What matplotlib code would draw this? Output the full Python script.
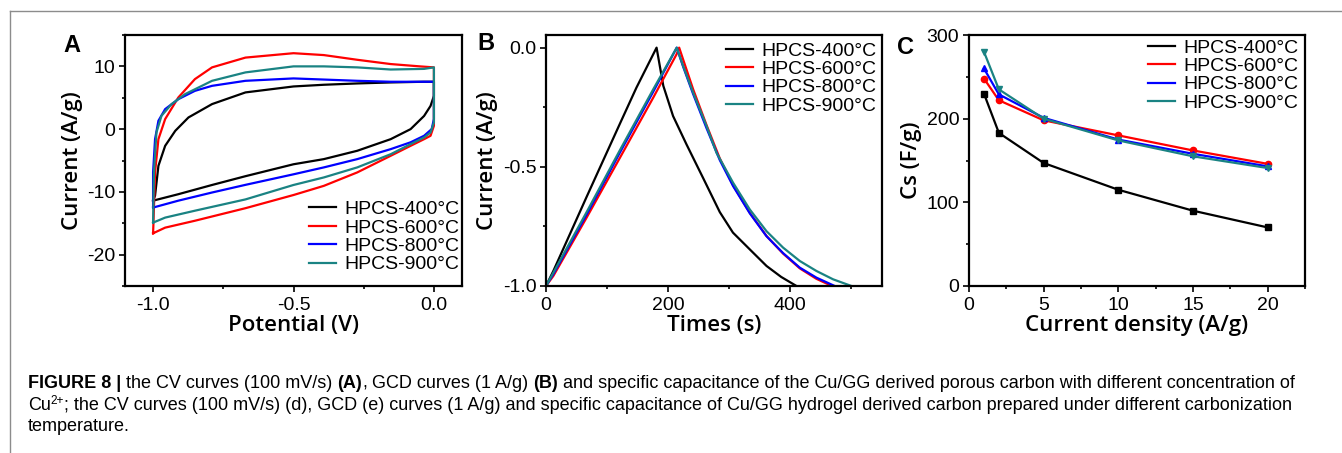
import matplotlib
matplotlib.use("Agg")
import matplotlib.pyplot as plt
from matplotlib.lines import Line2D
from matplotlib.ticker import MultipleLocator

plt.rcParams["font.family"] = ["Liberation Sans", "DejaVu Sans"]
plt.rcParams["axes.unicode_minus"] = False

# ---- data ----
labels = ["HPCS-400°C", "HPCS-600°C", "HPCS-800°C", "HPCS-900°C"]
colors = ["#000000", "#ff0000", "#0000ff", "#1a8383"]

# (A) CV loops: upper branch -1 -> 0 V, then lower branch 0 -> -1 V
cv400_v = [-1.0, -0.993, -0.981, -0.957, -0.921, -0.874, -0.79, -0.671, -0.5, -0.392, -0.273, -0.154, -0.035, 0.0,
           0.0, -0.012, -0.035, -0.083, -0.154, -0.273, -0.392, -0.5, -0.671, -0.79, -0.91, -1.0]
cv400_i = [-11.4, -10.6, -5.85, -2.66, -0.27, 1.86, 3.99, 5.85, 6.8, 7.07, 7.28, 7.44, 7.55, 7.55,
           5.3, 3.7, 2.1, 0.0, -1.6, -3.45, -4.78, -5.6, -7.5, -8.9, -10.37, -11.4]
cv600_v = [-1.0, -0.999, -0.993, -0.981, -0.957, -0.91, -0.851, -0.79, -0.671, -0.5, -0.392, -0.273, -0.154, -0.05, 0.0,
           0.0, -0.012, -0.035, -0.083, -0.154, -0.273, -0.392, -0.5, -0.671, -0.851, -0.957, -1.0]
cv600_i = [-16.6, -15.4, -6.9, -1.6, 1.6, 5.05, 7.97, 9.84, 11.4, 12.1, 11.8, 11.05, 10.37, 10.0, 9.84,
           0.53, -1.06, -1.6, -2.66, -4.25, -6.9, -9.04, -10.5, -12.6, -14.6, -15.7, -16.6]
cv800_v = [-1.0, -1.0, -0.993, -0.981, -0.957, -0.91, -0.851, -0.79, -0.671, -0.5, -0.273, -0.154, 0.0,
           0.0, -0.008, -0.035, -0.083, -0.154, -0.273, -0.392, -0.5, -0.671, -0.79, -0.91, -1.0]
cv800_i = [-12.5, -6.9, -1.6, 1.33, 3.19, 4.78, 6.1, 6.9, 7.7, 8.08, 7.7, 7.55, 7.55,
           1.6, 0.0, -1.06, -2.1, -3.19, -4.78, -6.1, -7.2, -8.88, -10.1, -11.4, -12.5]
cv900_v = [-1.0, -0.997, -0.988, -0.97, -0.934, -0.886, -0.79, -0.671, -0.5, -0.392, -0.273, -0.154, -0.035, 0.0,
           0.0, -0.012, -0.035, -0.083, -0.154, -0.273, -0.392, -0.5, -0.671, -0.851, -0.957, -1.0]
cv900_i = [-14.9, -6.9, -0.53, 2.13, 3.99, 5.58, 7.7, 9.04, 10.0, 10.0, 9.84, 9.5, 9.6, 9.84,
           1.06, -0.53, -1.33, -2.39, -4.0, -6.1, -7.7, -8.9, -11.2, -13.0, -14.1, -14.9]

# (B) GCD: charge then discharge
gcd400_t = [0, 12, 39, 66.5, 94, 121, 148, 181, 192, 208, 230, 257, 284.5, 306, 335, 361, 385, 410]
gcd400_v = [-1.0, -0.937, -0.783, -0.626, -0.471, -0.319, -0.168, 0.0, -0.16, -0.287, -0.406, -0.546, -0.69,
            -0.776, -0.85, -0.916, -0.962, -1.0]
gcd600_t = [0, 12, 66.5, 121, 175.5, 213.7, 218, 224.5, 240.9, 262.8, 284.5, 306.3, 333.6, 360.9, 388.1,
            415.4, 442.7, 468]
gcd600_v = [-1.0, -0.958, -0.713, -0.462, -0.21, -0.028, 0.0, -0.05, -0.175, -0.325, -0.465, -0.578, -0.693,
            -0.79, -0.864, -0.926, -0.97, -1.0]
gcd800_t = [0, 12, 66.5, 121, 175.5, 214, 224.5, 240.9, 262.8, 284.5, 306.3, 333.6, 360.9, 388.1, 415.4,
            442.7, 472.6]
gcd800_v = [-1.0, -0.95, -0.70, -0.44, -0.185, 0.0, -0.08, -0.195, -0.338, -0.472, -0.581, -0.695, -0.791,
            -0.862, -0.923, -0.965, -1.0]
gcd900_t = [0, 12, 66.5, 121, 175.5, 214, 224.5, 240.9, 262.8, 279.1, 306.3, 333.6, 360.9, 388.1, 415.4,
            442.7, 470, 500]
gcd900_v = [-1.0, -0.944, -0.690, -0.430, -0.175, 0.0, -0.077, -0.189, -0.329, -0.441, -0.567, -0.679, -0.77,
            -0.839, -0.895, -0.937, -0.972, -1.0]

# (C) specific capacitance
current_density = [1, 2, 5, 10, 15, 20]
cs400 = [230, 183, 147, 115, 90, 70]
cs600 = [248, 222, 198, 180, 162, 146]
cs800 = [260, 229, 201, 175, 158, 143]
cs900 = [280, 235, 200, 174, 155, 141]
markers = ["s", "o", "^", "v"]

caption_l1 = [("FIGURE 8 |", "bold"), ("the CV curves (100 mV/s)", "normal"), ("(A),", "bold_comma"),
              ("GCD curves (1 A/g)", "normal"), ("(B)", "bold"),
              ("and specific capacitance of the Cu/GG derived porous carbon with different concentration of", "normal")]
caption_l2 = "; the CV curves (100 mV/s) (d), GCD (e) curves (1 A/g) and specific capacitance of Cu/GG hydrogel derived carbon prepared under different carbonization"
caption_l3 = "temperature."

W, H = 1342, 453
fig = plt.figure(figsize=(W / 100, H / 100), dpi=100)


def rect(left, top, right, bottom):
    return [left / W, 1 - bottom / H, (right - left) / W, (bottom - top) / H]


label_font = dict(family=["Open Sans", "DejaVu Sans"], fontweight="semibold", fontsize=16)


def style(ax):
    for s in ax.spines.values():
        s.set_linewidth(1.6)
    ax.tick_params(which="both", direction="out", top=False, right=False, width=1.2, labelsize=14)
    ax.tick_params(which="major", length=4, pad=3)
    ax.tick_params(which="minor", length=2.5)
    ax.tick_params(axis="x", which="major", pad=4)


def legend(ax, x, y, handles=None):
    kw = dict(loc="upper left", bbox_to_anchor=(x, y), frameon=False, fontsize=14, borderpad=0,
              borderaxespad=0, handlelength=1.4, handletextpad=0.4, labelspacing=0.04)
    if handles is not None:
        ax.legend(handles=handles, **kw)
    else:
        ax.legend(**kw)


# ---- A ----
axA = fig.add_axes(rect(125, 35, 462, 286))
for v, i, c, lab in zip([cv400_v, cv600_v, cv800_v, cv900_v], [cv400_i, cv600_i, cv800_i, cv900_i], colors, labels):
    axA.plot(v, i, color=c, lw=1.6, label=lab)
axA.set_xlim(-1.1, 0.1)
axA.set_ylim(-25, 15)
axA.xaxis.set_major_locator(MultipleLocator(0.5))
axA.xaxis.set_minor_locator(MultipleLocator(0.25))
axA.yaxis.set_major_locator(MultipleLocator(10))
axA.yaxis.set_minor_locator(MultipleLocator(5))
style(axA)
axA.set_xlabel("Potential (V)", labelpad=1, **label_font)
axA.set_ylabel("Current (A/g)", labelpad=3, **label_font)
legend(axA, 0.546, 0.34)

# ---- B ----
axB = fig.add_axes(rect(546, 35, 882, 286))
for t, v, c, lab in zip([gcd400_t, gcd600_t, gcd800_t, gcd900_t], [gcd400_v, gcd600_v, gcd800_v, gcd900_v], colors, labels):
    axB.plot(t, v, color=c, lw=1.6, label=lab)
axB.set_xlim(0, 550)
axB.set_ylim(-1.0, 0.053)
axB.xaxis.set_major_locator(MultipleLocator(200))
axB.xaxis.set_minor_locator(MultipleLocator(100))
axB.yaxis.set_major_locator(MultipleLocator(0.5))
axB.yaxis.set_minor_locator(MultipleLocator(0.25))
style(axB)
axB.set_xlabel("Times (s)", labelpad=1, **label_font)
axB.set_ylabel("Current (A/g)", labelpad=3, **label_font)
legend(axB, 0.536, 0.972)

# ---- C ----
axC = fig.add_axes(rect(969, 35, 1305, 286))
handles = []
for y, c, m, lab in zip([cs400, cs600, cs800, cs900], colors, markers, labels):
    axC.plot(current_density, y, color=c, lw=1.6, marker=m, markersize=4.5)
    handles.append(Line2D([], [], color=c, lw=1.6, label=lab))
axC.set_xlim(0, 22.5)
axC.set_ylim(0, 300)
axC.xaxis.set_major_locator(MultipleLocator(5))
axC.xaxis.set_minor_locator(MultipleLocator(2.5))
axC.yaxis.set_major_locator(MultipleLocator(100))
axC.yaxis.set_minor_locator(MultipleLocator(50))
style(axC)
axC.set_xlabel("Current density (A/g)", labelpad=1, **label_font)
axC.set_ylabel("Cs (F/g)", labelpad=3, **label_font)
legend(axC, 0.533, 0.984, handles)

# panel letters
for x, y, s in [(72, 45, "A"), (486, 44, "B"), (906, 48, "C")]:
    fig.text(x / W, 1 - y / H, s, ha="center", va="center", fontsize=17, fontweight="bold")

# grey frame of the figure page
fig.add_artist(Line2D([9.5 / W, 1], [1 - 10.5 / H, 1 - 10.5 / H], color="#8c8c8c", lw=1))
fig.add_artist(Line2D([9.5 / W, 9.5 / W], [0, 1 - 10.5 / H], color="#8c8c8c", lw=1))

# ---- caption, laid out run by run ----
fig.canvas.draw()
renderer = fig.canvas.get_renderer()
cap_size = 13


def text_w(s, weight="normal", size=cap_size):
    t = fig.text(0, 0, s, fontsize=size, fontweight=weight)
    w = t.get_window_extent(renderer).width
    t.remove()
    return w


space_w = text_w("x x") - text_w("xx")
x0 = 28
x = x0
y1 = H - 388
for s, w in caption_l1:
    if w == "bold_comma":
        fig.text(x / W, y1 / H, "(A)", fontsize=cap_size, fontweight="bold", va="baseline")
        x += text_w("(A)", "bold")
        fig.text(x / W, y1 / H, ",", fontsize=cap_size, va="baseline")
        x += text_w(",") + space_w
        continue
    fig.text(x / W, y1 / H, s, fontsize=cap_size, fontweight=w, va="baseline")
    x += text_w(s, w) + space_w

y2 = H - 410
fig.text(x0 / W, y2 / H, "Cu", fontsize=cap_size, va="baseline")
x = x0 + text_w("Cu")
fig.text(x / W, (y2 + 6) / H, "2+", fontsize=8.5, va="baseline")
x += text_w("2+", size=8.5)
fig.text(x / W, y2 / H, caption_l2, fontsize=cap_size, va="baseline")
fig.text(x0 / W, (H - 431) / H, caption_l3, fontsize=cap_size, va="baseline")

fig.savefig("out.png", dpi=100)
